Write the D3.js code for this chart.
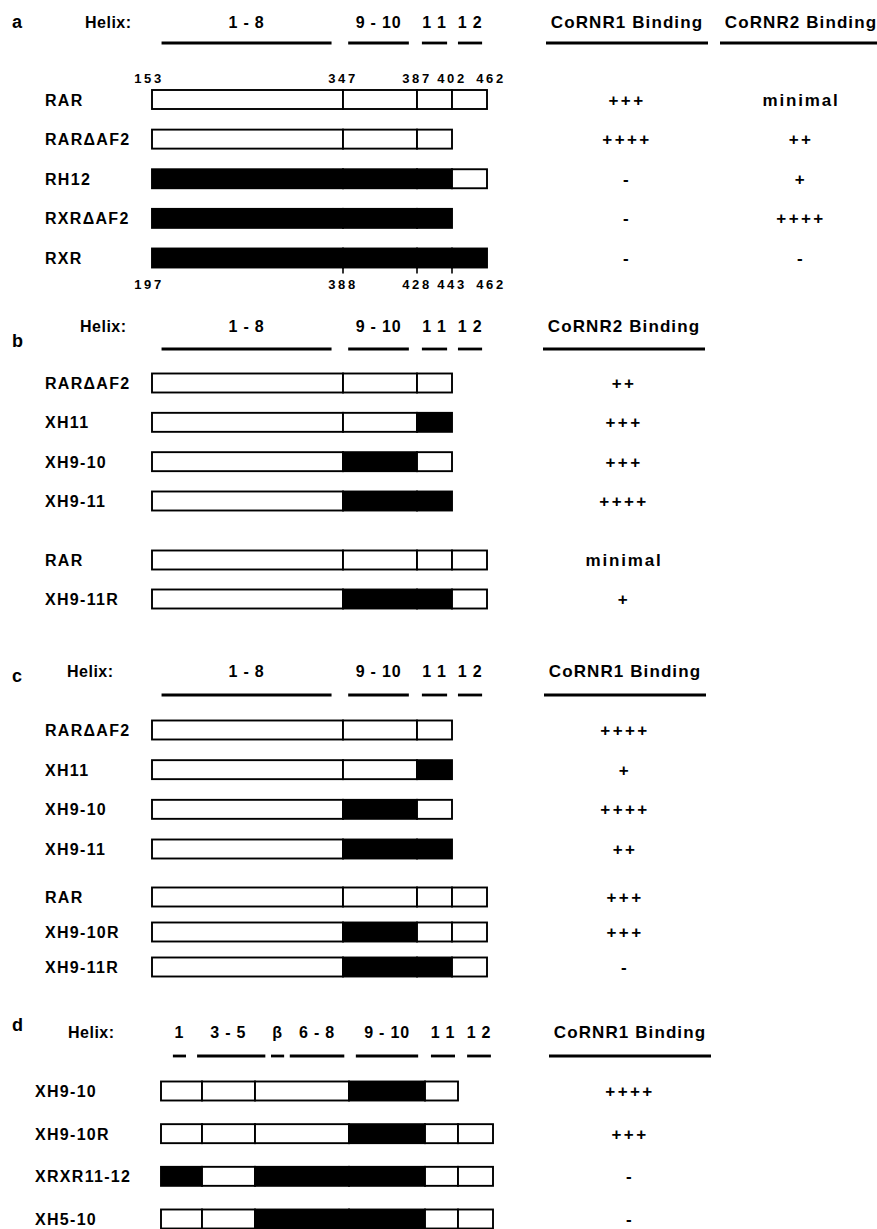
<!DOCTYPE html>
<html>
<head>
<meta charset="utf-8">
<script src="https://cdn.jsdelivr.net/npm/d3@7"></script>
<style>
  body { margin: 0; background: #fff; }
  text { font-family: "Liberation Sans", Arial, sans-serif; font-weight: bold; fill: #000; }
</style>
</head>
<body>
<svg id="fig" width="877" height="1229"></svg>
<script>
// helix layout, as fractions of the construct segments
var helixNames = ["1 - 8", "9 - 10", "1 1", "1 2"];
var helixSpans = [[0.05, 0.94], [1.07, 1.89], [2.14, 2.86], [3.17, 3.86]];
var helixNamesD = ["1", "3 - 5", "\u03b2", "6 - 8", "9 - 10", "1 1", "1 2"];
var helixSpansD = [[0.29, 0.61], [0.88, 2.11], [2.17, 2.31], [2.37, 2.95], [3.09, 3.91], [4.18, 4.91], [5.26, 5.94]];

// residue numbers at segment boundaries
var rarSites = [153, 347, 387, 402, 462];
var rxrSites = [197, 388, 428, 443, 462];

// r = RAR segment (open), x = RXR segment (filled)
var constructsA = ["RAR", "RAR\u0394AF2", "RH12", "RXR\u0394AF2", "RXR"];
var originA = ["rrrr", "rrr", "xxxr", "xxx", "xxxx"];
var cornr1A = ["+++", "++++", "-", "-", "-"];
var cornr2A = ["minimal", "++", "+", "++++", "-"];

var constructsB = ["RAR\u0394AF2", "XH11", "XH9-10", "XH9-11", "RAR", "XH9-11R"];
var originB = ["rrr", "rrx", "rxr", "rxx", "rrrr", "rxxr"];
var cornr2B = ["++", "+++", "+++", "++++", "minimal", "+"];

var constructsC = ["RAR\u0394AF2", "XH11", "XH9-10", "XH9-11", "RAR", "XH9-10R", "XH9-11R"];
var originC = ["rrr", "rrx", "rxr", "rxx", "rrrr", "rxrr", "rxxr"];
var cornr1C = ["++++", "+", "++++", "++", "+++", "+++", "-"];

var constructsD = ["XH9-10", "XH9-10R", "XRXR11-12", "XH5-10"];
var originD = ["rrrxr", "rrrxrr", "xrxxrr", "rrxxrr"];
var cornr1D = ["++++", "+++", "-", "-"];

var svg = d3.select("#fig");
svg.append("rect").attr("width", 877).attr("height", 1229).attr("fill", "#fff");

var barH = 19;

var panels = [
  {letter: "a", letterY: 28, helixX: 85, titleY: 28, lineY: 43, labelX: 45,
   segX: [152, 343, 417, 452, 487], rowIdx: [0, 4], rowY: [99.5, 258],
   names: constructsA, origin: originA, helix: helixNames, spans: helixSpans,
   cols: [{title: "CoRNR1 Binding", x: 627, values: cornr1A},
          {title: "CoRNR2 Binding", x: 801, values: cornr2A}],
   top: rarSites, bottom: rxrSites},
  {letter: "b", letterY: 347, helixX: 80, titleY: 332, lineY: 349, labelX: 45,
   segX: [152, 343, 417, 452, 487], rowIdx: [0, 3, 4, 5], rowY: [383, 501, 560, 599],
   names: constructsB, origin: originB, helix: helixNames, spans: helixSpans,
   cols: [{title: "CoRNR2 Binding", x: 624, values: cornr2B}]},
  {letter: "c", letterY: 682, helixX: 67, titleY: 677, lineY: 695, labelX: 45,
   segX: [152, 343, 417, 452, 487], rowIdx: [0, 3, 4, 6], rowY: [730, 849, 897, 967],
   names: constructsC, origin: originC, helix: helixNames, spans: helixSpans,
   cols: [{title: "CoRNR1 Binding", x: 625, values: cornr1C}]},
  {letter: "d", letterY: 1031, helixX: 68, titleY: 1038, lineY: 1056, labelX: 35,
   segX: [161, 202, 255, 349, 425, 458, 493], rowIdx: [0, 3], rowY: [1091, 1219],
   names: constructsD, origin: originD, helix: helixNamesD, spans: helixSpansD,
   cols: [{title: "CoRNR1 Binding", x: 630, values: cornr1D}]}
];

panels.forEach(function(p) {
  var g = svg.append("g");
  var x = d3.scaleLinear().domain(d3.range(p.segX.length)).range(p.segX);
  var y = d3.scaleLinear().domain(p.rowIdx).range(p.rowY);

  g.append("text").attr("x", 12).attr("y", p.letterY)
    .style("font-size", "18px").text(p.letter);

  g.append("text").attr("x", p.helixX).attr("y", p.titleY)
    .style("font-size", "16px").style("letter-spacing", "0.5px").text("Helix:");

  // helix spans
  g.selectAll(".hl").data(p.spans).enter()
    .append("line")
    .attr("x1", function(d) { return x(d[0]); })
    .attr("x2", function(d) { return x(d[1]); })
    .attr("y1", p.lineY).attr("y2", p.lineY)
    .attr("stroke", "#000").attr("stroke-width", 2.8);

  g.selectAll(".ht").data(p.spans).enter()
    .append("text")
    .attr("x", function(d) { return x((d[0] + d[1]) / 2); })
    .attr("y", p.titleY)
    .attr("text-anchor", "middle")
    .style("font-size", "16px").style("letter-spacing", "0.8px")
    .text(function(d, i) { return p.helix[i]; });

  // binding columns
  p.cols.forEach(function(c) {
    g.append("text").attr("x", c.x).attr("y", p.titleY)
      .attr("text-anchor", "middle")
      .style("font-size", "17px").style("letter-spacing", "1.1px")
      .text(c.title);
    g.append("line")
      .attr("x1", c.x - 81).attr("x2", c.x + 81)
      .attr("y1", p.lineY).attr("y2", p.lineY)
      .attr("stroke", "#000").attr("stroke-width", 2.8);
    g.selectAll(".val").data(c.values).enter()
      .append("text")
      .attr("x", c.x)
      .attr("y", function(d, i) { return y(i) + 6; })
      .attr("text-anchor", "middle")
      .style("font-size", "17px").style("letter-spacing", function(d) { return d == "minimal" ? "1.8px" : "2.4px"; })
      .text(function(d) { return d; });
  });

  // construct rows
  var rows = g.selectAll(".row").data(p.names).enter()
    .append("g")
    .attr("transform", function(d, i) { return "translate(0," + y(i) + ")"; });

  rows.append("text")
    .attr("x", p.labelX).attr("y", 6)
    .style("font-size", "16px").style("letter-spacing", "1.3px")
    .text(function(d) { return d; });

  rows.selectAll("rect")
    .data(function(d, i) { return p.origin[i].split(""); })
    .enter()
    .append("rect")
    .attr("x", function(d, k) { return x(k); })
    .attr("width", function(d, k) { return x(k + 1) - x(k); })
    .attr("y", -barH / 2)
    .attr("height", barH)
    .attr("fill", function(d) { return d == "x" ? "#000" : "#fff"; })
    .attr("stroke", "#000")
    .attr("stroke-width", 1.9);

  // residue numbers for panel a
  if (p.top) {
    var last = p.names.length - 1;
    g.selectAll(".topnum").data(p.top).enter()
      .append("text")
      .attr("x", function(d, k) { return x(k) + (k == 0 ? -3 : (k == p.top.length - 1 ? 4 : 0)); })
      .attr("y", y(0) - barH / 2 - 7)
      .attr("text-anchor", "middle")
      .style("font-size", "13px").style("letter-spacing", "2.6px")
      .text(function(d) { return d; });

    g.selectAll(".botnum").data(p.bottom).enter()
      .append("text")
      .attr("x", function(d, k) { return x(k) + (k == 0 ? -3 : (k == p.bottom.length - 1 ? 4 : 0)); })
      .attr("y", y(last) + barH / 2 + 21)
      .attr("text-anchor", "middle")
      .style("font-size", "13px").style("letter-spacing", "2.6px")
      .text(function(d) { return d; });

    g.selectAll(".tick").data(p.bottom.slice(1, -1)).enter()
      .append("line")
      .attr("x1", function(d, k) { return x(k + 1); })
      .attr("x2", function(d, k) { return x(k + 1); })
      .attr("y1", y(last) + barH / 2)
      .attr("y2", y(last) + barH / 2 + 6)
      .attr("stroke", "#000").attr("stroke-width", 1.6);
  }
});
</script>
</body>
</html>
